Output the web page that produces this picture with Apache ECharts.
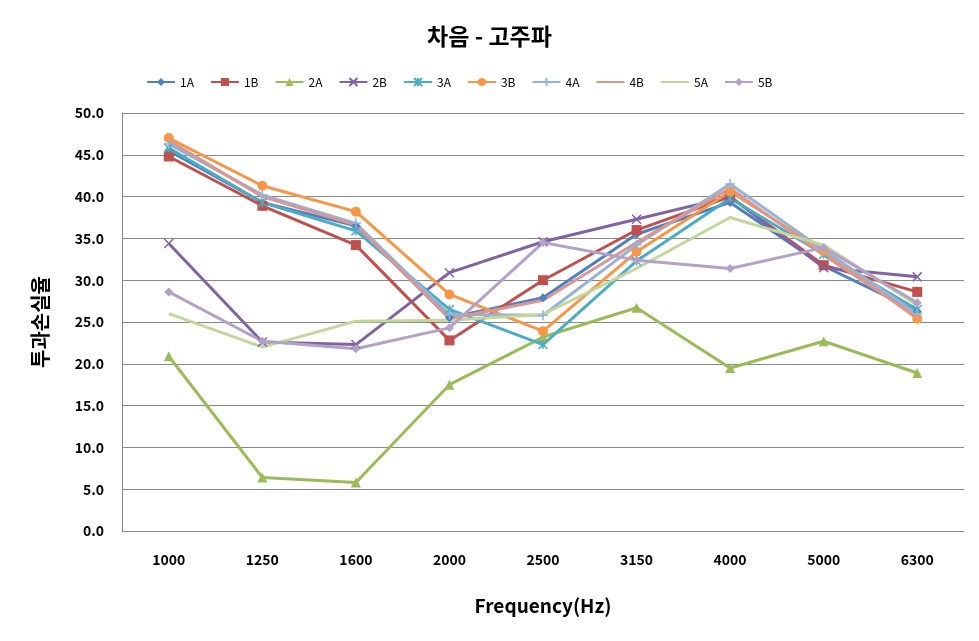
<!DOCTYPE html>
<html><head><meta charset="utf-8">
<script src="https://cdn.jsdelivr.net/npm/echarts@6/dist/echarts.min.js"></script>
<style>html,body{margin:0;padding:0;background:#fff}#c{width:979px;height:641px}</style>
</head><body><div id="c"></div>
<script>
const categories = ['1000','1250','1600','2000','2500','3150','4000','5000','6300'];
const s1A = [45.5, 39.3, 36.5, 25.5, 27.9, 35.5, 39.3, 31.7, 26.3];
const s1B = [44.8, 38.9, 34.2, 22.8, 30.0, 36.0, 40.0, 31.8, 28.6];
const s2A = [20.9, 6.4, 5.8, 17.5, 23.2, 26.7, 19.5, 22.7, 18.9];
const s2B = [34.4, 22.6, 22.3, 30.9, 34.6, 37.3, 40.0, 31.5, 30.4];
const s3A = [45.8, 39.3, 35.9, 26.5, 22.3, 32.3, 39.8, 33.1, 26.5];
const s3B = [47.0, 41.3, 38.2, 28.3, 23.9, 33.4, 40.6, 33.5, 25.4];
const s4A = [46.3, 40.2, 36.8, 25.9, 25.8, 34.2, 41.5, 33.6, 26.0];
const s4B = [46.7, 40.0, 36.6, 25.4, 27.6, 34.5, 41.0, 33.0, 25.6];
const s5A = [26.0, 22.0, 25.1, 25.2, 25.9, 31.4, 37.5, 34.2, 27.0];
const s5B = [28.6, 22.7, 21.8, 24.3, 34.5, 32.4, 31.4, 33.9, 27.3];
const names = ['1A','1B','2A','2B','3A','3B','4A','4B','5A','5B'];
const seriesData = [s1A,s1B,s2A,s2B,s3A,s3B,s4A,s4B,s5A,s5B];
const colors = ['#4F81BD','#C0504D','#9BBB59','#8064A2','#4BACC6','#F79646','#95B3D7','#D99694','#C3D69B','#B3A2C7'];
const X = 'path://M0,0L10,10M10,0L0,10';
const AST = 'path://M0,0L10,10M10,0L0,10M5,0L5,10';
const PLUS = 'path://M5,0L5,10M0,5L10,5';
const symbols = ['diamond','rect','triangle',X,AST,'circle',PLUS,'none','none','diamond'];
const sizes = [9,10,10,9,9,10,10,0,0,9];
const strokeSym = [false,false,false,true,true,false,true,false,false,false];
const FONT = '"Noto Sans CJK KR", "Noto Sans", sans-serif';
const chart = echarts.init(document.getElementById('c'));
chart.setOption({
  animation:false,
  color: colors,
  title:{text:'차음 - 고주파', left:'center', top:20, textStyle:{fontFamily:FONT,fontSize:23,fontWeight:'bold',color:'#000'}},
  legend:{top:71,left:141,itemGap:16,itemWidth:28,itemHeight:10,textStyle:{fontFamily:FONT,fontSize:12,color:'#000'},
    data:names.map((n,i)=>symbols[i]==='none'?{name:n,itemStyle:{opacity:0}}:{name:n})},
  grid:{left:122,right:15,top:113,bottom:110},
  xAxis:{type:'category',data:categories,boundaryGap:true,
    name:'Frequency(Hz)',nameLocation:'middle',nameGap:65,
    nameTextStyle:{fontFamily:FONT,fontSize:19,fontWeight:'bold',color:'#000'},
    axisLine:{lineStyle:{color:'#888'}},axisTick:{show:false},
    axisLabel:{fontFamily:FONT,fontSize:14,fontWeight:'bold',color:'#000',margin:22}},
  yAxis:{type:'value',min:0,max:50,interval:5,
    name:'투과손실율',nameLocation:'middle',nameGap:72,nameRotate:90,
    nameTextStyle:{fontFamily:FONT,fontSize:20,fontWeight:'bold',color:'#000'},
    axisLine:{show:true,lineStyle:{color:'#888'}},axisTick:{show:false},
    splitLine:{lineStyle:{color:'#888',width:1}},
    axisLabel:{fontFamily:FONT,fontSize:14,fontWeight:'bold',color:'#000',margin:18,formatter:v=>v.toFixed(1)}},
  series: names.map((n,i)=>({
    name:n,type:'line',data:seriesData[i],
    symbol:symbols[i],symbolSize:sizes[i],showSymbol:symbols[i]!=='none',
    lineStyle:{width:3,color:colors[i]},
    itemStyle: strokeSym[i] ? {color:'rgba(0,0,0,0)',borderColor:colors[i],borderWidth:1.5} : {color:colors[i],borderWidth:0},
    emphasis:{disabled:true}
  }))
});
</script></body></html>
